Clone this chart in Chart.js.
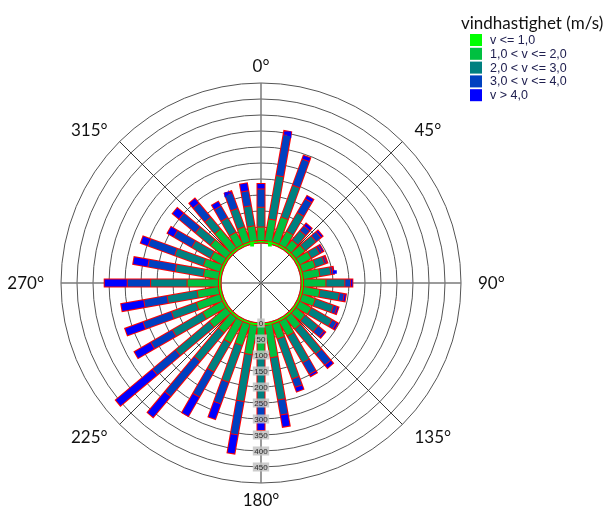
<!DOCTYPE html>
<html>
<head>
<meta charset="utf-8">
<script src="https://cdn.jsdelivr.net/npm/chart.js@4.4.1/dist/chart.umd.min.js"></script>
<style>
  html, body { margin: 0; padding: 0; background: #fff; }
  #rose { display: block; }
</style>
</head>
<body>
<canvas id="rose" width="608" height="507"></canvas>
<script>
// wind directions (degrees, clockwise from north)
const directions = [0, 10, 20, 30, 40, 50, 60, 70, 80, 90, 100, 110, 120, 130, 140, 150, 160, 170,
                    180, 190, 200, 210, 220, 230, 240, 250, 260, 270, 280, 290, 300, 310, 320, 330, 340, 350];

const compassLabels = ['0°', '45°', '90°', '135°', '180°', '225°', '270°', '315°'];
const radialTicks = [0, 50, 100, 150, 200, 250, 300, 350, 400, 450, 500];
const tickLabels = ['0', '50', '100', '150', '200', '250', '300', '350', '400', '450'];

const legendTitle = 'vindhastighet (m/s)';
const classLabels = ['v <= 1,0', '1,0 < v <= 2,0', '2,0 < v <= 3,0', '3,0 < v <= 4,0', 'v > 4,0'];
const classColors = ['#00FF00', '#00C040', '#008080', '#0040C0', '#0000FF'];

// counts per speed class, one value per direction
const speedLe1 = [8, 8, 8, 8, 8, 8, 8, 8, 8, 8, 8, 8, 8, 8, 8, 8, 8, 8,
                  8, 8, 8, 8, 8, 8, 8, 8, 8, 8, 8, 8, 8, 8, 8, 8, 8, 8];
const speed1to2 = [42, 68, 82, 47, 32, 37, 42, 44, 52, 70, 52, 44, 42, 37, 45, 52, 49, 102,
                   97, 93, 71, 77, 60, 68, 71, 78, 68, 98, 48, 55, 42, 64, 78, 44, 50, 47];
const speed2to3 = [62, 138, 106, 67, 38, 45, 30, 30, 35, 59, 62, 60, 75, 53, 102, 96, 133, 134,
                   141, 148, 122, 105, 117, 138, 109, 83, 95, 114, 89, 95, 68, 61, 48, 52, 61, 63];
const speed3to4 = [57, 130, 87, 50, 20, 20, 9, 7, 7, 18, 15, 12, 16, 24, 45, 42, 28, 48,
                   62, 106, 72, 90, 143, 94, 78, 94, 74, 73, 87, 88, 65, 67, 57, 42, 51, 48];
const speedGt4 = [17, 13, 13, 12, 11, 8, 6, 4, 4, 7, 7, 6, 7, 7, 13, 8, 15, 39,
                  28, 61, 52, 70, 86, 151, 60, 61, 73, 72, 48, 26, 24, 27, 20, 17, 8, 25];

const speedSeries = [speedLe1, speed1to2, speed2to3, speed3to4, speedGt4];

const HOLE = 125;          // empty centre, in count units
const PX = 1250 / 400;     // count units per pixel

function toXY(v, deg) {
    const a = deg * Math.PI / 180;
    const r = HOLE + v;
    return { x: r * Math.sin(a), y: r * Math.cos(a) };
}

const gap = { x: null, y: null };
const outline = [];
const segData = speedSeries.map(() => []);

directions.forEach((deg, i) => {
    let base = 0;
    speedSeries.forEach((series, c) => {
        const top = base + series[i];
        segData[c].push(toXY(base + PX / 2, deg), toXY(top - PX / 2, deg), gap);
        base = top;
    });
    outline.push(toXY(-PX / 2, deg), toXY(base + PX / 2, deg), gap);
});

const barStyle = {
    showLine: true,
    spanGaps: false,
    borderCapStyle: 'butt',
    pointRadius: 0,
    pointHoverRadius: 0,
    tension: 0
};

const datasets = classLabels.map((label, c) => Object.assign({
    label: label,
    data: segData[c],
    borderColor: classColors[c],
    backgroundColor: classColors[c],
    borderWidth: 7,
    order: 0
}, barStyle));

datasets.push(Object.assign({
    label: 'kant',
    data: outline,
    borderColor: '#FF0000',
    backgroundColor: '#FF0000',
    borderWidth: 9,
    order: 1
}, barStyle));

const roseText = {
    id: 'roseText',
    afterDatasetsDraw(chart) {
        const r = chart.scales.r;
        const ctx = chart.ctx;
        ctx.save();
        ctx.font = '8px "Liberation Sans", Arial, sans-serif';
        ctx.textAlign = 'center';
        ctx.textBaseline = 'middle';
        tickLabels.forEach((t, i) => {
            const y = r.yCenter + r.getDistanceFromCenterForValue(radialTicks[i]);
            const w = ctx.measureText(t).width;
            ctx.fillStyle = 'rgba(195,195,195,0.85)';
            ctx.fillRect(r.xCenter - w / 2 - 1.5, y - 4.5, w + 3, 9);
            ctx.fillStyle = '#2a2a2a';
            ctx.fillText(t, r.xCenter, y + 0.5);
        });
        ctx.restore();
    },
    afterDraw(chart) {
        const r = chart.scales.r;
        const ctx = chart.ctx;
        ctx.save();
        // compass labels
        ctx.font = '17px Lato, sans-serif';
        ctx.textAlign = 'center';
        ctx.textBaseline = 'middle';
        compassLabels.forEach((t, i) => {
            const w = ctx.measureText(t).width;
            const h = 12;
            const a = i * Math.PI / 4;
            const s = Math.sin(a), c = Math.cos(a);
            const sx = Math.abs(s) < 1e-6 ? 0 : Math.sign(s);
            const x = r.xCenter + (r.drawingArea + 17) * s + sx * w / 2;
            const y = r.yCenter - (r.drawingArea + 17) * c;
            ctx.fillStyle = '#fff';
            ctx.fillRect(x - w / 2 - 5, y - h / 2 - 6, w + 10, h + 12);
            ctx.fillStyle = '#111';
            ctx.fillText(t, x, y + 1);
        });

        // legend
        ctx.textAlign = 'left';
        ctx.textBaseline = 'alphabetic';
        ctx.fillStyle = '#111';
        ctx.font = '17px Lato, sans-serif';
        ctx.fillText(legendTitle, 461, 29);
        ctx.font = '12.5px "Liberation Sans", Arial, sans-serif';
        ctx.textBaseline = 'middle';
        chart.data.datasets.slice(0, classLabels.length).forEach((ds, i) => {
            const top = 34 + i * 13.8;
            ctx.fillStyle = ds.backgroundColor;
            ctx.fillRect(470, top, 12, 12);
            ctx.fillStyle = '#202050';
            ctx.fillText(ds.label, 490, top + 6.5);
        });
        ctx.restore();
    }
};

new Chart(document.getElementById('rose'), {
    type: 'scatter',
    data: { datasets: datasets },
    options: {
        responsive: false,
        animation: false,
        events: [],
        layout: { padding: { left: 61, top: 83, right: 147, bottom: 24 } },
        plugins: {
            legend: { display: false },
            tooltip: { enabled: false }
        },
        scales: {
            x: { type: 'linear', min: -625, max: 625, display: false },
            y: { type: 'linear', min: -625, max: 625, display: false },
            r: {
                type: 'radialLinear',
                min: -HOLE,
                max: 500,
                labels: compassLabels,
                startAngle: 0,
                afterBuildTicks: (s) => { s.ticks = radialTicks.map(v => ({ value: v })); },
                ticks: { display: false },
                pointLabels: { display: false },
                grid: { circular: true, color: '#555', lineWidth: 1 },
                angleLines: {
                    color: (c) => c.index % 2 === 0 ? '#7a7a7a' : '#333',
                    lineWidth: (c) => c.index % 2 === 0 ? 1.5 : 1
                }
            }
        }
    },
    plugins: [roseText]
});
</script>
</body>
</html>
